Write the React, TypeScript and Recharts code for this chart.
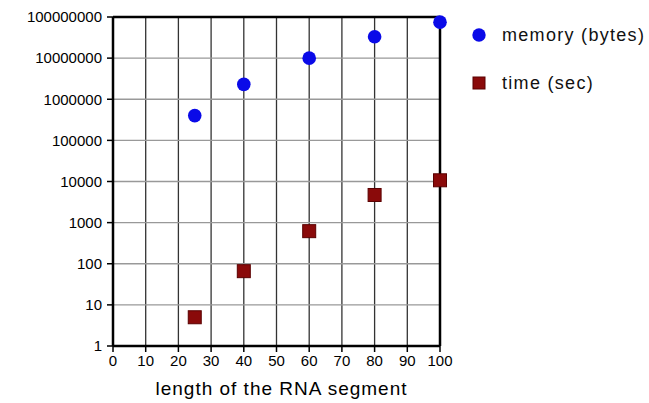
import React from 'react';
import {
  ScatterChart, Scatter, XAxis, YAxis, CartesianGrid, ReferenceLine,
} from 'recharts';

const lengths = [25, 40, 60, 80, 100];
const memoryBytes = [400000, 2300000, 10000000, 33000000, 75000000];
const timeSec = [5, 66, 620, 4700, 10700];

const seriesNames = ['memory (bytes)', 'time (sec)'];
const xAxisTitle = 'length of the RNA segment';

const xTicks = [0, 10, 20, 30, 40, 50, 60, 70, 80, 90, 100];
const xMinorTicks = [0, 2, 4, 6, 8, 10, 12, 14, 16, 18, 20, 22, 24, 26, 28, 30, 32, 34, 36, 38, 40, 42, 44, 46, 48, 50, 52, 54, 56, 58, 60, 62, 64, 66, 68, 70, 72, 74, 76, 78, 80, 82, 84, 86, 88, 90, 92, 94, 96, 98, 100];
const yTicks = [1, 10, 100, 1000, 10000, 100000, 1000000, 10000000, 100000000];
const yMinorMultipliers = [2, 3, 4, 5, 6, 7, 8, 9];

const yMinorTicks: number[] = [];
yTicks.slice(0, -1).forEach((d) => yMinorMultipliers.forEach((m) => yMinorTicks.push(d * m)));

const memoryData = lengths.map((x, i) => ({ x, y: memoryBytes[i] }));
const timeData = lengths.map((x, i) => ({ x, y: timeSec[i] }));

const FONT = '"Liberation Sans", Arial, Helvetica, sans-serif';
const BLUE = '#0a0ae8';
const RED = '#8a0a0a';

const Circle = (p: any) => <circle cx={p.cx} cy={p.cy} r={6.8} fill={BLUE} />;
const Square = (p: any) => (
  <rect x={p.cx - 6.5} y={p.cy - 6.5} width={13} height={13} fill={RED} stroke="#5a0000" strokeWidth={1} />
);

const LegendBox = () => (
  <div style={{ position: 'absolute', left: 471, top: 25, fontFamily: FONT, fontSize: 18, letterSpacing: 1.3, color: '#111' }}>
    <div style={{ display: 'flex', alignItems: 'center', height: 20 }}>
      <svg width={16} height={16} style={{ marginRight: 15 }}>
        <circle cx={8} cy={8} r={6.7} fill={BLUE} />
      </svg>
      <span>{seriesNames[0]}</span>
    </div>
    <div style={{ display: 'flex', alignItems: 'center', height: 20, marginTop: 28 }}>
      <svg width={16} height={16} style={{ marginRight: 15 }}>
        <rect x={2} y={2} width={12} height={12} fill={RED} stroke="#5a0000" />
      </svg>
      <span>{seriesNames[1]}</span>
    </div>
  </div>
);

const tickStyle = { fill: '#000', fontSize: 15, fontFamily: FONT };

export default function App() {
  return (
    <div style={{ position: 'absolute', left: 0, top: 0, width: 649, height: 403, background: '#fff' }}>
      <ScatterChart width={649} height={403} margin={{ top: 17, right: 209, bottom: 0, left: 0 }}>
        <CartesianGrid horizontal={false} vertical stroke="#333" strokeWidth={1.3} />
        <CartesianGrid horizontal vertical={false} stroke="#999" strokeWidth={1.3} />
        <XAxis
          xAxisId="minor"
          type="number"
          dataKey="x"
          domain={[0, 100]}
          ticks={xMinorTicks}
          height={0}
          axisLine={false}
          tickSize={3}
          tickLine={{ stroke: '#555' }}
          tickFormatter={() => ''}
          interval={0}
          allowDataOverflow
        />
        <XAxis
          type="number"
          dataKey="x"
          domain={[0, 100]}
          ticks={xTicks}
          height={57}
          tickSize={6}
          tickMargin={3}
          axisLine={{ stroke: '#000', strokeWidth: 2.5 }}
          tickLine={{ stroke: '#000', strokeWidth: 1.5 }}
          tick={tickStyle}
          interval={0}
          label={{ value: xAxisTitle, position: 'insideBottom', offset: 8, dx: 5, fill: '#000', fontSize: 19, letterSpacing: 1, fontFamily: FONT }}
        />
        <YAxis
          yAxisId="minor"
          type="number"
          dataKey="y"
          scale="log"
          domain={[1, 100000000]}
          ticks={yMinorTicks}
          width={0}
          axisLine={false}
          tickSize={3}
          tickLine={{ stroke: '#555' }}
          tickFormatter={() => ''}
          interval={0}
          allowDataOverflow
        />
        <YAxis
          type="number"
          dataKey="y"
          scale="log"
          domain={[1, 100000000]}
          ticks={yTicks}
          width={113}
          tickSize={6}
          tickMargin={5}
          interval={0}
          axisLine={{ stroke: '#000', strokeWidth: 2.5 }}
          tickLine={{ stroke: '#000', strokeWidth: 1.5 }}
          tick={tickStyle}
        />
        <ReferenceLine y={100000000} stroke="#000" strokeWidth={2.5} />
        <ReferenceLine x={100} stroke="#000" strokeWidth={2.5} />
        <Scatter name={seriesNames[0]} data={memoryData} shape={Circle} isAnimationActive={false} />
        <Scatter name={seriesNames[1]} data={timeData} shape={Square} isAnimationActive={false} />
      </ScatterChart>
      <LegendBox />
    </div>
  );
}
